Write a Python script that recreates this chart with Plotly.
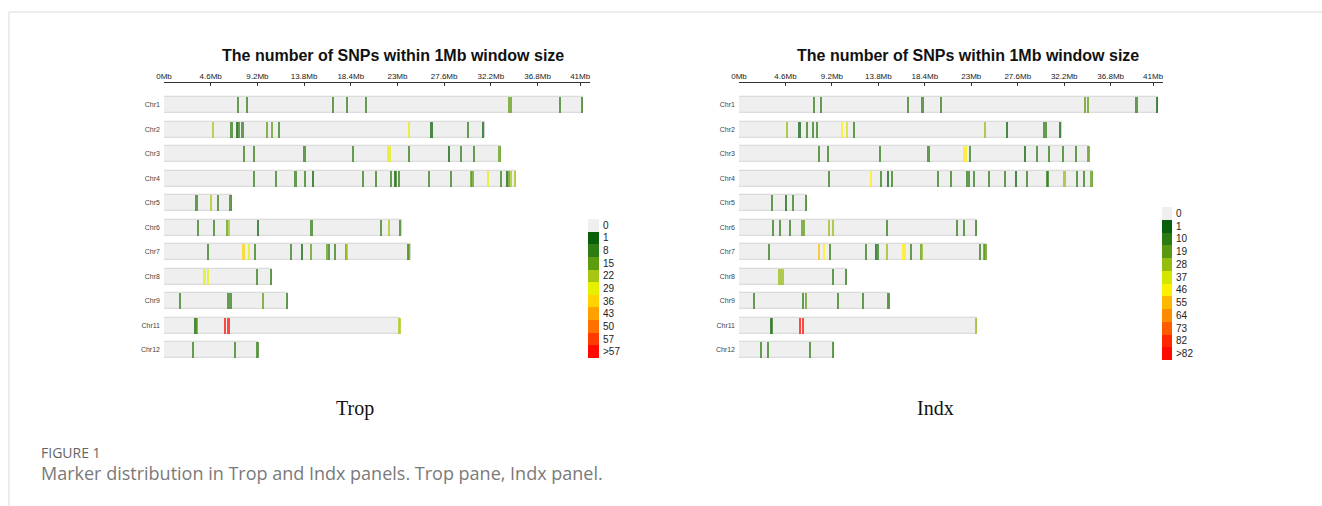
import plotly.graph_objects as go

W, H = 1322, 506

CHROMS = ["Chr1", "Chr2", "Chr3", "Chr4", "Chr5", "Chr6", "Chr7", "Chr8", "Chr9", "Chr11", "Chr12"]

TICK_VALS = [0, 4.6, 9.2, 13.8, 18.4, 23, 27.6, 32.2, 36.8, 41]
TICK_TEXT = ["0Mb", "4.6Mb", "9.2Mb", "13.8Mb", "18.4Mb", "23Mb", "27.6Mb", "32.2Mb", "36.8Mb", "41Mb"]

# ---- Trop panel ----
TROP_LENGTHS = [41.25, 31.6, 33.2, 34.68, 6.67, 23.4, 24.3, 10.6, 12.2, 23.3, 9.3]
TROP_POS = {
    "Chr1": [7.26, 8.08, 16.58, 18.0, 19.84, 33.96, 34.15, 39.0, 41.1],
    "Chr2": [4.76, 6.6, 7.16, 7.29, 7.68, 10.1, 10.57, 11.3, 24.1, 26.3, 29.9, 31.4],
    "Chr3": [7.82, 8.77, 13.79, 18.55, 22.0, 22.2, 24.07, 28.0, 29.23, 30.48, 33.0],
    "Chr4": [8.8, 11.0, 12.9, 13.86, 14.61, 19.54, 20.82, 22.33, 22.69, 22.79, 23.12, 26.08,
             28.24, 30.15, 30.34, 31.89, 33.17, 33.76, 33.96, 34.09, 34.5],
    "Chr5": [3.15, 4.6, 5.29, 6.5],
    "Chr6": [3.32, 4.89, 6.14, 6.34, 9.2, 14.48, 21.3, 22.07, 23.2],
    "Chr7": [4.3, 7.78, 8.28, 8.93, 12.48, 13.5, 14.45, 16.03, 16.22, 16.81, 17.87, 18.0, 23.97, 24.12],
    "Chr8": [3.94, 4.27, 9.13, 10.45],
    "Chr9": [1.48, 6.24, 6.5, 9.72, 12.05],
    "Chr11": [3.05, 3.2, 5.95, 6.3, 23.15],
    "Chr12": [2.79, 6.96, 9.15],
}
TROP_COUNTS = {
    "Chr1": [10, 10, 10, 10, 10, 17, 17, 10, 10],
    "Chr2": [24, 10, 3, 10, 10, 17, 17, 10, 31, 3, 10, 3],
    "Chr3": [10, 10, 10, 10, 31, 31, 10, 3, 10, 10, 17],
    "Chr4": [10, 10, 10, 10, 3, 10, 10, 10, 3, 10, 10, 10,
             10, 17, 17, 30, 10, 3, 17, 24, 24],
    "Chr5": [10, 24, 10, 10],
    "Chr6": [10, 10, 17, 24, 3, 10, 10, 24, 10],
    "Chr7": [10, 38, 31, 10, 10, 3, 17, 17, 10, 10, 17, 24, 10, 17],
    "Chr8": [30, 30, 10, 10],
    "Chr9": [10, 10, 10, 17, 10],
    "Chr11": [3, 17, 60, 60, 24],
    "Chr12": [10, 10, 10],
}
TROP_LABELS = ["0", "1", "8", "15", "22", "29", "36", "43", "50", "57", ">57"]
TROP_EDGES = [1, 8, 15, 22, 29, 36, 43, 50, 57, 58]
TROP_COLORS = ["#efefef", "#0a5f0a", "#2f7b14", "#5d9b0f", "#a5c612", "#e7ef00",
               "#ffd200", "#ffa200", "#ff7200", "#ff3c00", "#ff0a00"]

# ---- Indx panel ----
INDX_LENGTHS = [41.5, 32.0, 34.7, 35.0, 6.7, 23.6, 24.5, 10.7, 14.9, 23.6, 9.4]
INDX_POS = {
    "Chr1": [7.33, 8.09, 16.68, 18.11, 19.93, 34.2, 34.46, 39.3, 41.35],
    "Chr2": [4.74, 5.94, 6.67, 7.26, 7.66, 10.15, 10.61, 11.34, 24.31, 26.47, 30.12, 30.35, 31.7],
    "Chr3": [7.83, 8.79, 13.93, 18.71, 22.25, 22.39, 22.82, 28.22, 29.42, 30.61, 32.0, 33.33, 34.55],
    "Chr4": [8.89, 12.97, 13.96, 14.69, 15.09, 19.67, 20.93, 22.49, 22.75, 23.25, 24.71, 26.24,
             27.4, 28.46, 30.45, 30.55, 32.17, 33.43, 34.1, 34.85],
    "Chr5": [3.18, 4.61, 5.31, 6.6],
    "Chr6": [3.28, 4.01, 4.98, 6.2, 6.4, 8.82, 9.29, 14.59, 21.49, 22.26, 23.45],
    "Chr7": [2.95, 7.83, 8.33, 8.99, 12.54, 13.55, 13.7, 14.59, 16.19, 16.42, 16.95, 17.95, 18.1,
             23.81, 24.2, 24.35],
    "Chr8": [3.95, 4.25, 9.22, 10.55],
    "Chr9": [1.46, 6.3, 6.57, 9.75, 12.21, 14.75],
    "Chr11": [3.1, 3.22, 5.95, 6.3, 23.45],
    "Chr12": [2.16, 2.82, 6.97, 9.25],
}
INDX_COUNTS = {
    "Chr1": [12, 12, 12, 12, 12, 22, 22, 12, 4],
    "Chr2": [30, 4, 12, 12, 12, 48, 40, 12, 30, 4, 12, 12, 4],
    "Chr3": [12, 12, 12, 12, 50, 50, 12, 4, 12, 12, 12, 12, 22],
    "Chr4": [12, 48, 12, 4, 12, 12, 12, 12, 12, 12, 12, 12,
             4, 12, 12, 12, 30, 12, 12, 22],
    "Chr5": [12, 4, 12, 12],
    "Chr6": [12, 12, 12, 22, 22, 30, 30, 12, 12, 12, 12],
    "Chr7": [12, 58, 48, 12, 12, 4, 12, 30, 48, 48, 12, 22, 30, 12, 22, 22],
    "Chr8": [30, 30, 12, 12],
    "Chr9": [12, 12, 22, 12, 12, 12],
    "Chr11": [4, 12, 90, 90, 30],
    "Chr12": [12, 12, 12, 12],
}
INDX_LABELS = ["0", "1", "10", "19", "28", "37", "46", "55", "64", "73", "82", ">82"]
INDX_EDGES = [1, 10, 19, 28, 37, 46, 55, 64, 73, 82, 83]
INDX_COLORS = ["#efefef", "#0a5f0a", "#2c7a12", "#5a990f", "#95bd0f", "#d2e600",
               "#fff000", "#ffb800", "#ff8c00", "#ff5c00", "#ff2800", "#ff0a00"]

WINDOW_DRAW = 0.16  # drawn width of a window stripe (Mb)


def px(x):
    return x / W


def py(y):
    return 1 - y / H


def bin_color(c, edges, colors):
    idx = sum(1 for e in edges if c >= e)
    return colors[idx]


fig = go.Figure()

panels = [
    dict(lengths=TROP_LENGTHS, pos=TROP_POS, counts=TROP_COUNTS, edges=TROP_EDGES, colors=TROP_COLORS,
         labels=TROP_LABELS, x0=164, ppm=10.15, xa="x", ya="y", lxa="x3", lya="y3",
         leg=(588, 599, 219, 358), title_x=393, name="Trop", name_x=355),
    dict(lengths=INDX_LENGTHS, pos=INDX_POS, counts=INDX_COUNTS, edges=INDX_EDGES, colors=INDX_COLORS,
         labels=INDX_LABELS, x0=739, ppm=10.1, xa="x2", ya="y2", lxa="x4", lya="y4",
         leg=(1162, 1172, 207, 360), title_x=968, name="Indx", name_x=935),
]

ROW_TOP, ROW_STEP = 92.75, 24.5
y_dom = [py(ROW_TOP + ROW_STEP * len(CHROMS)), py(ROW_TOP)]

for i, p in enumerate(panels):
    # chromosome backbones
    fig.add_trace(go.Bar(
        orientation="h", y=CHROMS, x=p["lengths"], base=[0] * len(CHROMS),
        marker=dict(color="#efefef", line=dict(color="#d4d4d4", width=1)),
        width=0.66, xaxis=p["xa"], yaxis=p["ya"], showlegend=False, hoverinfo="skip"))
    ys, xs, cs = [], [], []
    for ch in CHROMS:
        for pos, cnt in zip(p["pos"][ch], p["counts"][ch]):
            ys.append(ch)
            xs.append(pos)
            cs.append(bin_color(cnt, p["edges"], p["colors"]))
    fig.add_trace(go.Bar(
        orientation="h", y=ys, x=[WINDOW_DRAW] * len(xs), base=xs,
        marker=dict(color=cs, line=dict(width=0), opacity=0.72),
        width=0.66, xaxis=p["xa"], yaxis=p["ya"], showlegend=False))

    # legend as a heatmap
    n = len(p["labels"])
    scale = []
    for k, col in enumerate(p["colors"]):
        scale.append([k / n, col])
        scale.append([(k + 1) / n, col])
    fig.add_trace(go.Heatmap(
        z=[[k] for k in range(n)], x=[0], y=list(range(n)),
        colorscale=scale, zmin=-0.5, zmax=n - 0.5, showscale=False,
        xaxis=p["lxa"], yaxis=p["lya"], hoverinfo="skip"))

    xr = 42
    xsuf = "" if p["xa"] == "x" else "2"
    ysuf = "" if p["ya"] == "y" else "2"
    fig.layout["xaxis" + xsuf] = dict(
        domain=[px(p["x0"]), px(p["x0"] + xr * p["ppm"])], range=[0, xr],
        side="top", anchor="free", position=py(81.7), automargin=False,
        tickvals=TICK_VALS, ticktext=TICK_TEXT, ticks="inside", ticklen=3,
        tickcolor="#333", showline=True, linecolor="#333", linewidth=1,
        showgrid=False, zeroline=False, tickfont=dict(size=8, family="Arial", color="#222"))
    fig.layout["yaxis" + ysuf] = dict(
        domain=y_dom, type="category", categoryarray=CHROMS, categoryorder="array",
        range=[len(CHROMS) - 0.5, -0.5], anchor=p["xa"], showgrid=False, zeroline=False,
        showline=False, ticks="", ticklabelstandoff=3, automargin=False,
        tickfont=dict(size=7, family="Arial", color="#444"))

    lx0, lx1, ly0, ly1 = p["leg"]
    lxs = p["lxa"][1:]
    lys = p["lya"][1:]
    fig.layout["xaxis" + lxs] = dict(domain=[px(lx0), px(lx1)], visible=False, anchor=p["lya"],
                                     range=[-0.5, 0.5], fixedrange=True, automargin=False)
    fig.layout["yaxis" + lys] = dict(domain=[py(ly1), py(ly0)], anchor=p["lxa"], side="right",
                                     range=[n - 0.5, -0.5], tickvals=list(range(n)),
                                     ticktext=p["labels"], ticks="", showgrid=False, zeroline=False,
                                     showline=False, ticklabelstandoff=3, automargin=False,
                                     tickfont=dict(size=10, family="Arial", color="#222"))

    fig.add_annotation(text="<b>The number of SNPs within 1Mb window size</b>", x=px(p["title_x"]),
                       y=py(55), xref="paper", yref="paper", showarrow=False,
                       font=dict(size=16, family="Arial", color="#111"), xanchor="center", yanchor="middle")
    fig.add_annotation(text=p["name"], x=px(p["name_x"]), y=py(408), xref="paper", yref="paper",
                       showarrow=False, font=dict(size=20, family="Liberation Serif", color="#111"),
                       xanchor="center", yanchor="middle")

fig.add_annotation(text="FIGURE 1", x=px(39), y=py(452), xref="paper", yref="paper", showarrow=False,
                   xanchor="left", yanchor="middle",
                   font=dict(size=14, family="Open Sans", color="#666"))
fig.add_annotation(text="Marker distribution in Trop and Indx panels. Trop pane, Indx panel.",
                   x=px(39), y=py(473), xref="paper", yref="paper", showarrow=False,
                   xanchor="left", yanchor="middle",
                   font=dict(size=18, family="Open Sans", color="#7a7a7a"))

# figure frame
fig.add_shape(type="line", xref="paper", yref="paper", x0=px(9), x1=1, y0=py(12), y1=py(12),
              line=dict(color="#d9d9d9", width=1))
fig.add_shape(type="line", xref="paper", yref="paper", x0=px(9), x1=px(9), y0=py(12), y1=0,
              line=dict(color="#d9d9d9", width=1))

fig.update_layout(width=W, height=H, margin=dict(l=0, r=0, t=0, b=0, pad=0, autoexpand=False),
                  barmode="overlay", paper_bgcolor="white", plot_bgcolor="white", bargap=0)

POST = (
    "document.documentElement.style.margin='0';"
    "document.body.style.margin='0';document.body.style.padding='0';"
    "document.body.style.overflow='hidden';"
    "var d=document.getElementsByClassName('plotly-graph-div')[0];"
    "d.style.position='fixed';d.style.left='0px';d.style.top='0px';"
)
fig.write_html("out.html", config={"displayModeBar": False}, post_script=POST)
